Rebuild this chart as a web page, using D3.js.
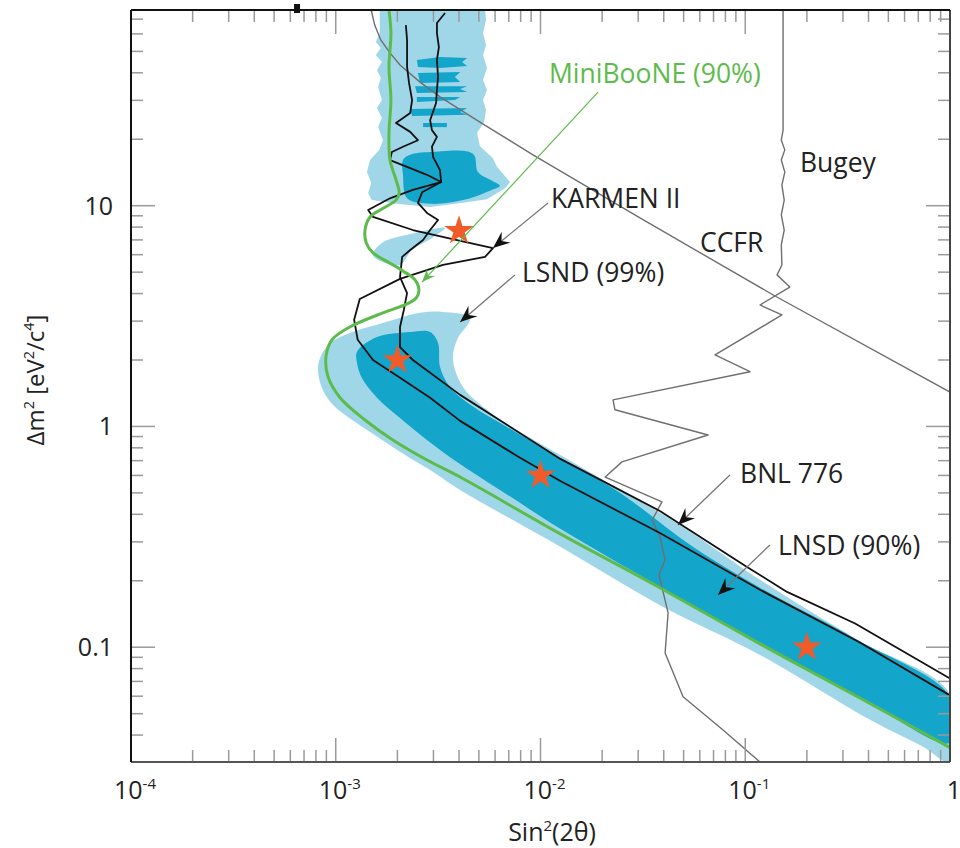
<!DOCTYPE html>
<html>
<head>
<meta charset="utf-8">
<script src="https://cdn.jsdelivr.net/npm/d3@7"></script>
<style>
body{margin:0;background:#fff;}
text{font-family:"Open Sans",sans-serif;fill:#222;}
</style>
</head>
<body>
<script>
// tick marks and labels
var xTicks=[1e-4,1e-3,1e-2,1e-1,1];
var xTickLabels=[["10","-4"],["10","-3"],["10","-2"],["10","-1"],["1",""]];
var yTicks=[0.1,1,10];
var yTickLabels=["0.1","1","10"];

// [sin^2(2theta), delta m^2]
var miniBooNE=[[1.82e-3,77],[1.86e-3,60.5],[1.82e-3,42.5],[1.86e-3,30.1],[1.82e-3,21.4],[1.84e-3,16.1],[1.97e-3,13.1],[2.04e-3,11.4],[1.97e-3,10.6],[1.68e-3,9.66],[1.47e-3,8.89],[1.39e-3,7.76],[1.41e-3,6.78],[1.52e-3,6.11],[1.80e-3,5.56],[2.13e-3,5.06],[2.44e-3,4.61],[2.55e-3,4.15],[2.47e-3,3.82],[2.23e-3,3.59],[1.70e-3,3.27],[1.17e-3,2.82],[9.59e-4,2.47],[8.96e-4,2.07],[9.17e-4,1.68],[1.05e-3,1.35],[1.39e-3,1.07],[1.90e-3,0.869],[2.79e-3,0.705],[4.05e-3,0.590],[1.25e-2,0.326],[3.83e-2,0.186],[0.118,0.1035],[0.363,0.0589],[1.0,0.0351]];

var karmen=[[2.20e-3,65.8],[2.23e-3,56.3],[2.23e-3,42.5],[2.28e-3,36.0],[2.36e-3,30.1],[2.31e-3,26.3],[1.97e-3,23.7],[2.31e-3,21.6],[2.52e-3,19.8],[2.13e-3,18.5],[1.88e-3,17.5],[1.84e-3,16.1],[2.31e-3,14.8],[2.79e-3,13.8],[3.27e-3,12.8],[2.38e-3,11.8],[1.84e-3,10.8],[1.44e-3,9.56],[1.52e-3,8.89],[2.38e-3,7.76],[3.91e-3,6.99],[5.86e-3,6.43],[5.36e-3,5.86],[3.34e-3,5.39],[2.06e-3,4.66],[1.31e-3,3.78],[1.23e-3,3.04],[1.28e-3,2.47],[1.52e-3,2.0],[2.06e-3,1.66],[2.89e-3,1.35],[4.05e-3,1.06],[7.68e-3,0.735],[1.25e-2,0.566],[3.83e-2,0.329],[0.118,0.182],[0.363,0.105],[1.0,0.0605]];

var bnl776=[[3.42e-3,74.6],[3.12e-3,67.2],[3.12e-3,60.5],[3.19e-3,52.3],[3.12e-3,45.7],[3.16e-3,38.3],[3.12e-3,33.4],[3.09e-3,29.2],[2.89e-3,24.4],[2.95e-3,22.0],[3.12e-3,20.5],[2.95e-3,18.5],[2.99e-3,16.6],[3.23e-3,14.5],[3.27e-3,12.8],[2.64e-3,11.5],[2.52e-3,10.3],[2.79e-3,9.27],[3.16e-3,8.61],[2.89e-3,7.76],[2.67e-3,6.99],[2.31e-3,6.30],[2.11e-3,5.86],[2.06e-3,4.75],[2.23e-3,4.02],[2.15e-3,3.37],[2.06e-3,2.82],[2.06e-3,2.29],[2.38e-3,2.0],[4.05e-3,1.39],[1.25e-2,0.713],[3.83e-2,0.414],[0.102,0.231],[0.160,0.178],[0.344,0.128],[1.0,0.0722]];

var ccfr=[[1.49e-3,77],[1.55e-3,65.8],[1.66e-3,56.3],[1.84e-3,49.2],[2.06e-3,43.4],[2.58e-3,36.3],[3.23e-3,31.1],[5.06e-3,23.9],[9.19e-3,17.0],[3.06e-2,8.80],[0.137,3.94],[1.0,1.43]];

var bugey=[[0.153,77],[0.153,22.0],[0.150,19.8],[0.156,17.9],[0.150,16.1],[0.156,14.2],[0.151,12.4],[0.155,10.6],[0.150,9.08],[0.155,7.76],[0.150,6.64],[0.151,5.39],[0.143,4.86],[0.165,4.28],[0.118,3.55],[0.151,3.20],[0.0712,2.11],[0.1055,1.77],[0.0226,1.32],[0.0231,1.19],[0.0658,0.915],[0.025,0.691],[0.0207,0.590],[0.0392,0.455],[0.0351,0.377],[0.0383,0.316],[0.0406,0.249],[0.0379,0.213],[0.042,0.143],[0.0406,0.0942],[0.0497,0.0596],[0.0779,0.0422],[0.118,0.0302]];

// LSND allowed regions
var lsnd99Band=[[4.53e-3,3.10],[3.34e-3,3.30],[2.58e-3,3.27],[1.70e-3,2.94],[1.17e-3,2.65],[9.37e-4,2.39],[8.38e-4,2.04],[8.19e-4,1.80],[8.57e-4,1.49],[9.70e-4,1.25],[1.17e-3,1.09],[1.55e-3,0.915],[2.18e-3,0.743],[2.89e-3,0.635],[4.05e-3,0.516],[1.25e-2,0.285],[3.83e-2,0.155],[0.118,0.0923],[0.407,0.0469],[0.738,0.0354],[1.0,0.0302],[1.0,0.0614],[0.352,0.108],[0.118,0.202],[4.80e-2,0.358],[2.45e-2,0.516],[1.25e-2,0.743],[7.68e-3,0.964],[5.48e-3,1.19],[4.18e-3,1.51],[3.74e-3,2.0],[3.91e-3,2.47]];
var lsnd99Top=[[1.64e-3,77],[1.64e-3,60.5],[1.57e-3,55.1],[1.66e-3,51.8],[1.57e-3,48.1],[1.68e-3,44.8],[1.59e-3,41.2],[1.66e-3,37.9],[1.61e-3,34.5],[1.68e-3,30.1],[1.59e-3,27.7],[1.68e-3,25.0],[1.61e-3,22.7],[1.70e-3,19.8],[1.63e-3,17.9],[1.47e-3,16.1],[1.42e-3,14.2],[1.49e-3,12.7],[1.44e-3,11.4],[1.50e-3,10.6],[1.99e-3,10.2],[2.89e-3,9.86],[4.18e-3,10.3],[5.48e-3,10.7],[6.71e-3,12.0],[7.10e-3,12.8],[6.13e-3,15.0],[5.86e-3,16.4],[5.06e-3,18.6],[4.90e-3,21.4],[5.30e-3,23.9],[5.42e-3,27.1],[5.24e-3,30.1],[5.48e-3,33.4],[5.24e-3,37.1],[5.48e-3,42.0],[5.24e-3,48.1],[5.42e-3,53.4],[5.24e-3,60.5],[5.42e-3,69.3],[5.36e-3,77]];
var lsnd99Patch=[[1.52e-3,5.98],[1.68e-3,6.78],[2.31e-3,7.44],[3.42e-3,7.93],[2.95e-3,7.14],[2.36e-3,6.30],[2.06e-3,5.39],[1.74e-3,5.50]];

var lsnd90Band=[[1.27e-3,2.18],[1.59e-3,2.54],[2.31e-3,2.68],[2.89e-3,2.68],[3.16e-3,2.39],[3.23e-3,1.86],[3.61e-3,1.51],[4.68e-3,1.23],[6.86e-3,0.995],[1.25e-2,0.72],[2.45e-2,0.50],[5.37e-2,0.291],[0.118,0.186],[0.352,0.108],[1.0,0.0596],[1.0,0.0369],[0.363,0.0596],[0.118,0.105],[3.83e-2,0.188],[1.25e-2,0.344],[6.34e-3,0.516],[3.91e-3,0.691],[2.79e-3,0.869],[2.06e-3,1.093],[1.59e-3,1.35],[1.34e-3,1.66],[1.27e-3,1.94]];
var lsnd90Blob=[[2.13e-3,16.1],[2.31e-3,17.0],[2.89e-3,17.5],[4.68e-3,17.2],[4.95e-3,14.2],[5.86e-3,12.9],[6.34e-3,12.3],[5.67e-3,11.7],[4.18e-3,10.6],[2.89e-3,10.2],[2.23e-3,10.8],[2.13e-3,13.8]];
var lsnd90Streaks=[
  [[2.49e-3,45.7],[3.23e-3,47.2],[4.38e-3,46.7],[4.14e-3,44.8],[4.38e-3,42.9],[3.23e-3,42.0],[2.52e-3,42.5]],
  [[2.52e-3,39.9],[4.05e-3,40.3],[3.82e-3,38.3],[4.05e-3,36.3],[2.58e-3,36.0]],
  [[2.44e-3,34.8],[4.38e-3,34.8],[4.05e-3,33.8],[4.38e-3,32.7],[2.49e-3,32.4]],
  [[2.49e-3,31.1],[4.05e-3,31.1],[3.82e-3,30.1],[2.49e-3,29.5]],
  [[2.31e-3,27.4],[4.38e-3,27.7],[4.05e-3,26.6],[4.38e-3,25.8],[2.36e-3,25.5]],
  [[2.67e-3,23.7],[3.49e-3,23.7],[3.49e-3,22.7],[2.67e-3,22.7]]
];

// best fit points
var stars=[[0.004,7.7],[0.002,2.0],[0.01,0.6],[0.2,0.1]];

// annotations
var labels=["MiniBooNE (90%)","Bugey","KARMEN II","CCFR","LSND (99%)","BNL 776","LNSD (90%)"];
var labelX=[1.10e-2,0.185,1.125e-2,6.01e-2,8.12e-3,9.43e-2,0.1445];
var labelY=[36,14.2,9.76,6.17,4.51,0.555,0.262];
var arrowFrom=[[1.91e-2,32.7],[1.088e-2,10.28],[7.51e-3,4.86],[8.42e-2,0.603],[0.132,0.2905]];
var arrowTo=[[2.64e-3,4.51],[5.86e-3,6.43],[4.05e-3,2.97],[4.69e-2,0.358],[7.36e-2,0.1725]];

var lightBlue="#9fd7e8", darkBlue="#14a5cb", green="#5dbb4c";

var svg=d3.select("body").append("svg").attr("width",960).attr("height",848);

var x=d3.scaleLog().domain([1e-4,1]).range([131,950]);
var y=d3.scaleLog().domain([0.0302,77]).range([762,10]);

var defs=svg.append("defs");
defs.append("clipPath").attr("id","plotclip").append("rect")
  .attr("x",x.range()[0]).attr("y",y.range()[1])
  .attr("width",x.range()[1]-x.range()[0]).attr("height",y.range()[0]-y.range()[1]);

defs.append("marker").attr("id","ahead").attr("viewBox","-18 -9 20 18")
  .attr("refX",0).attr("refY",0).attr("markerWidth",20).attr("markerHeight",18)
  .attr("markerUnits","userSpaceOnUse").attr("orient","auto")
  .append("path").attr("d","M0,0L-17,-7L-11,0L-17,7Z").attr("fill","#111");
defs.append("marker").attr("id","gahead").attr("viewBox","-18 -9 20 18")
  .attr("refX",0).attr("refY",0).attr("markerWidth",16).attr("markerHeight",14)
  .attr("markerUnits","userSpaceOnUse").attr("orient","auto")
  .append("path").attr("d","M0,0L-17,-7L-11,0L-17,7Z").attr("fill",green);

var line=d3.line().x(function(d){return x(d[0]);}).y(function(d){return y(d[1]);});
var smooth=d3.line().x(function(d){return x(d[0]);}).y(function(d){return y(d[1]);}).curve(d3.curveCatmullRom.alpha(0.5));
var poly=d3.line().x(function(d){return x(d[0]);}).y(function(d){return y(d[1]);}).curve(d3.curveLinearClosed);
var smoothPoly=d3.line().x(function(d){return x(d[0]);}).y(function(d){return y(d[1]);}).curve(d3.curveCatmullRomClosed.alpha(0.5));

var plot=svg.append("g").attr("clip-path","url(#plotclip)");

// regions
plot.append("path").attr("d",smoothPoly(lsnd99Band)).attr("fill",lightBlue);
plot.append("path").attr("d",poly(lsnd99Top)).attr("fill",lightBlue);
plot.append("path").attr("d",smoothPoly(lsnd99Patch)).attr("fill",lightBlue);
plot.append("path").attr("d",smoothPoly(lsnd90Band)).attr("fill",darkBlue);
plot.append("path").attr("d",smoothPoly(lsnd90Blob)).attr("fill",darkBlue);
plot.selectAll(".streak").data(lsnd90Streaks).enter().append("path")
  .attr("class","streak").attr("d",poly).attr("fill",darkBlue);

// exclusion curves
plot.append("path").attr("d",line(ccfr)).attr("fill","none").attr("stroke","#6f6f6f").attr("stroke-width",1.4);
plot.append("path").attr("d",line(bugey)).attr("fill","none").attr("stroke","#6f6f6f").attr("stroke-width",1.4).attr("stroke-linejoin","round");
plot.append("path").attr("d",line(bnl776)).attr("fill","none").attr("stroke","#111").attr("stroke-width",1.8).attr("stroke-linejoin","round");
plot.append("path").attr("d",line(karmen)).attr("fill","none").attr("stroke","#111").attr("stroke-width",1.8).attr("stroke-linejoin","round");
plot.append("path").attr("d",smooth(miniBooNE)).attr("fill","none").attr("stroke",green).attr("stroke-width",3);

// stars
plot.selectAll(".star").data(stars).enter().append("path").attr("class","star")
  .attr("transform",function(d){return "translate("+x(d[0])+","+y(d[1])+")";})
  .attr("d",d3.symbol().type(d3.symbolStar).size(270))
  .attr("fill","#f15a29");

// arrows
svg.append("line")
  .attr("x1",x(arrowFrom[0][0])).attr("y1",y(arrowFrom[0][1]))
  .attr("x2",x(arrowTo[0][0])).attr("y2",y(arrowTo[0][1]))
  .attr("stroke",green).attr("stroke-width",1.2).attr("marker-end","url(#gahead)");
svg.selectAll(".arrow").data(arrowFrom.slice(1)).enter().append("line").attr("class","arrow")
  .attr("x1",function(d){return x(d[0]);}).attr("y1",function(d){return y(d[1]);})
  .attr("x2",function(d,i){return x(arrowTo[i+1][0]);}).attr("y2",function(d,i){return y(arrowTo[i+1][1]);})
  .attr("stroke","#777").attr("stroke-width",1.3).attr("marker-end","url(#ahead)");

// labels
svg.selectAll(".lab").data(labels).enter().append("text").attr("class","lab")
  .attr("x",function(d,i){return x(labelX[i]);}).attr("y",function(d,i){return y(labelY[i]);})
  .attr("font-size",26.5)
  .style("fill",function(d,i){return i==0?green:"#222";})
  .text(function(d){return d;});

// ticks
function isMajor(t){var l=Math.log10(t);return Math.abs(l-Math.round(l))<1e-6;}
var xMinor=x.ticks().filter(function(t){return !isMajor(t);});
var yMinor=y.ticks().filter(function(t){return !isMajor(t);});
var x0=x.range()[0],x1=x.range()[1],yb=y.range()[0],yt=y.range()[1];
var tk=svg.append("g").attr("stroke","#9a9a9a").attr("stroke-width",1.5);
function xt(list,len){
  tk.selectAll(null).data(list).enter().append("line")
    .attr("x1",function(d){return x(d);}).attr("x2",function(d){return x(d);})
    .attr("y1",yb).attr("y2",yb-len);
  tk.selectAll(null).data(list).enter().append("line")
    .attr("x1",function(d){return x(d);}).attr("x2",function(d){return x(d);})
    .attr("y1",yt).attr("y2",yt+len);
}
function yt_(list,len){
  tk.selectAll(null).data(list).enter().append("line")
    .attr("y1",function(d){return y(d);}).attr("y2",function(d){return y(d);})
    .attr("x1",x0).attr("x2",x0+len);
  tk.selectAll(null).data(list).enter().append("line")
    .attr("y1",function(d){return y(d);}).attr("y2",function(d){return y(d);})
    .attr("x1",x1).attr("x2",x1-len);
}
xt(xMinor,12); xt(xTicks,24); yt_(yMinor,12); yt_(yTicks,24);

// frame
svg.append("line").attr("x1",x0).attr("x2",x1).attr("y1",yb).attr("y2",yb).attr("stroke","#555").attr("stroke-width",2);
svg.append("line").attr("x1",x1).attr("x2",x1).attr("y1",yt).attr("y2",yb).attr("stroke","#444").attr("stroke-width",2);
svg.append("line").attr("x1",x0).attr("x2",x1).attr("y1",yt).attr("y2",yt).attr("stroke","#111").attr("stroke-width",2);
svg.append("line").attr("x1",x0).attr("x2",x0).attr("y1",yt).attr("y2",yb).attr("stroke","#111").attr("stroke-width",2);
svg.append("rect").attr("x",x(6.47e-4)-3).attr("y",4).attr("width",6).attr("height",9).attr("fill","#111");

// tick labels
var xl=svg.selectAll(".xl").data(xTicks).enter().append("text").attr("class","xl")
  .attr("x",function(d){return x(d)+4;}).attr("y",799)
  .attr("text-anchor","middle").attr("font-size",25);
xl.append("tspan").text(function(d,i){return xTickLabels[i][0];});
xl.append("tspan").attr("dy",-10).attr("font-size",15).text(function(d,i){return xTickLabels[i][1];});
svg.selectAll(".yl").data(yTicks).enter().append("text").attr("class","yl")
  .attr("x",113).attr("y",function(d){return y(d)+9;})
  .attr("text-anchor","end").attr("font-size",25)
  .text(function(d,i){return yTickLabels[i];});

// axis titles
function richText(g,parts,size){
  var sup=false;
  parts.forEach(function(p){
    var t=g.append("tspan").text(p[0]);
    if(p[1]){t.attr("font-size",size*0.6).attr("dy",-size*0.4);sup=true;}
    else if(sup){t.attr("dy",size*0.4);sup=false;}
  });
}
var xt1=svg.append("text").attr("x",552).attr("y",841).attr("text-anchor","middle").attr("font-size",25);
richText(xt1,[["Sin",0],["2",1],["(2θ)",0]],25);
var yt1=svg.append("text").attr("transform","translate(44,380) rotate(-90)").attr("text-anchor","middle").attr("font-size",24);
richText(yt1,[["Δm",0],["2",1],[" [eV",0],["2",1],["/c",0],["4",1],["]",0]],24);
</script>
</body>
